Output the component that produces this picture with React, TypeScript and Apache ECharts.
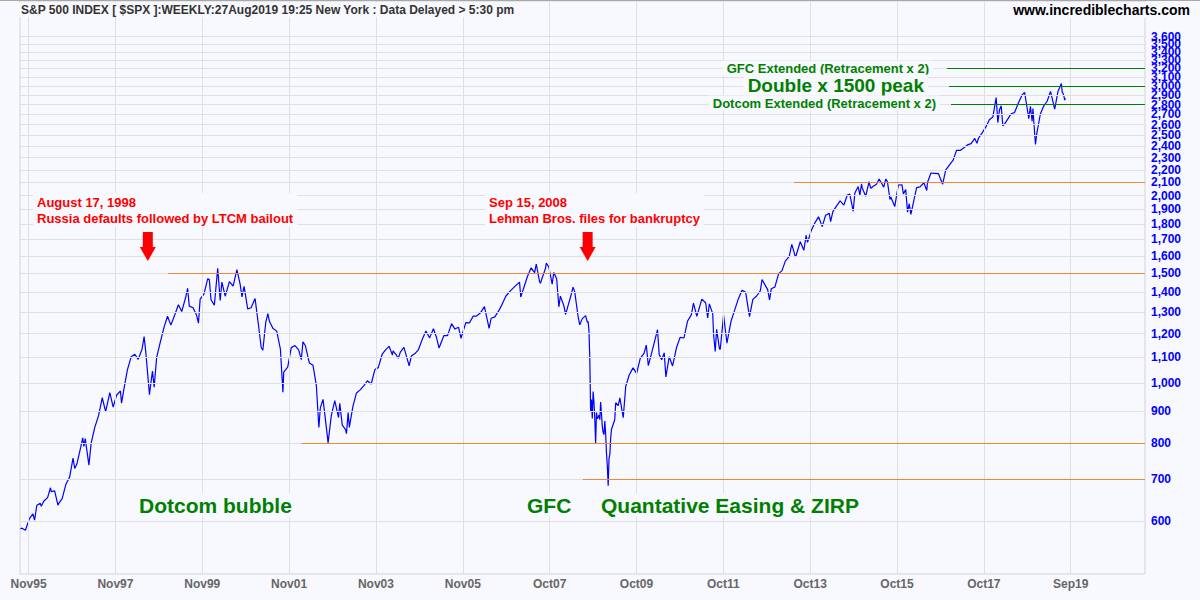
import React, { useEffect, useRef } from "react";
import * as echarts from "echarts";

type Pt = [string, number];

const era1995to1999: Pt[] = [
  ["1995-09-15", 583], ["1995-09-29", 584.4], ["1995-10-27", 579.7], ["1995-11-30", 605.4], ["1995-12-29", 615.9],
  ["1996-01-12", 601.8], ["1996-01-31", 636.0], ["1996-02-29", 640.4], ["1996-03-08", 633.5], ["1996-03-29", 645.5],
  ["1996-04-30", 654.2], ["1996-05-24", 678.5], ["1996-05-31", 669.1], ["1996-06-28", 670.6], ["1996-07-26", 635.9],
  ["1996-07-31", 640.0], ["1996-08-30", 652.0], ["1996-09-30", 687.3], ["1996-10-31", 705.3], ["1996-11-29", 757.0],
  ["1996-12-13", 728.6], ["1996-12-31", 740.7],
  ["1997-01-31", 786.2], ["1997-02-18", 816.3], ["1997-02-28", 790.8], ["1997-03-11", 813.7], ["1997-04-11", 737.7],
  ["1997-04-30", 801.3], ["1997-05-30", 848.3], ["1997-06-30", 885.1], ["1997-08-01", 947.1], ["1997-08-08", 933.5],
  ["1997-08-29", 899.5], ["1997-10-03", 965.0], ["1997-10-31", 914.6], ["1997-11-28", 955.4], ["1997-12-31", 970.4],
  ["1998-01-09", 927.7], ["1998-01-30", 980.3], ["1998-02-27", 1049.3], ["1998-03-31", 1101.8], ["1998-04-30", 1111.8],
  ["1998-05-29", 1090.8], ["1998-06-30", 1133.8], ["1998-07-17", 1186.8], ["1998-07-31", 1120.7], ["1998-08-31", 957.3],
  ["1998-09-04", 973.9], ["1998-09-25", 1044.8], ["1998-10-09", 984.4], ["1998-10-30", 1098.7], ["1998-11-30", 1163.6],
  ["1998-12-31", 1229.2],
  ["1999-01-29", 1279.6], ["1999-02-26", 1238.3], ["1999-03-31", 1286.4], ["1999-04-30", 1335.2], ["1999-05-28", 1301.8],
  ["1999-06-30", 1372.7], ["1999-07-16", 1418.8], ["1999-07-30", 1328.7], ["1999-08-31", 1320.4], ["1999-09-30", 1282.7],
  ["1999-10-15", 1247.4], ["1999-10-29", 1362.9], ["1999-11-30", 1388.9], ["1999-12-31", 1469.3],
];

const era2000to2003: Pt[] = [
  ["2000-01-14", 1465.2], ["2000-01-28", 1360.2], ["2000-02-25", 1333.4], ["2000-03-24", 1527.5], ["2000-04-14", 1356.6],
  ["2000-04-28", 1452.4], ["2000-05-26", 1378.0], ["2000-06-30", 1454.6], ["2000-07-31", 1430.8], ["2000-09-01", 1520.8],
  ["2000-09-29", 1436.5], ["2000-10-13", 1374.2], ["2000-10-31", 1429.4], ["2000-11-30", 1315.0], ["2000-12-29", 1320.3],
  ["2001-01-31", 1366.0], ["2001-02-28", 1239.9], ["2001-03-23", 1139.8], ["2001-04-06", 1128.4], ["2001-04-30", 1249.5],
  ["2001-05-18", 1292.0], ["2001-05-31", 1255.8], ["2001-06-29", 1224.4], ["2001-07-31", 1211.2], ["2001-08-31", 1133.6],
  ["2001-09-21", 965.8], ["2001-09-28", 1040.9], ["2001-10-31", 1059.8], ["2001-11-30", 1139.5], ["2001-12-31", 1148.1],
  ["2002-01-31", 1130.2], ["2002-02-22", 1089.8], ["2002-03-08", 1164.3], ["2002-03-28", 1147.4], ["2002-04-30", 1076.9],
  ["2002-05-31", 1067.1], ["2002-06-28", 989.8], ["2002-07-19", 847.8], ["2002-07-31", 911.6], ["2002-08-23", 940.9],
  ["2002-09-30", 815.3], ["2002-10-04", 800.6], ["2002-10-31", 885.8], ["2002-11-29", 936.3], ["2002-12-31", 879.8],
  ["2003-01-10", 927.6], ["2003-01-31", 855.7], ["2003-02-28", 841.2], ["2003-03-07", 828.9], ["2003-03-21", 895.8],
  ["2003-03-31", 848.2], ["2003-04-30", 916.9], ["2003-05-30", 963.6], ["2003-06-30", 974.5], ["2003-07-31", 990.3],
  ["2003-08-29", 1008.0], ["2003-09-30", 996.0], ["2003-10-31", 1050.7], ["2003-11-28", 1058.2], ["2003-12-31", 1111.9],
];

const era2004to2007: Pt[] = [
  ["2004-01-30", 1131.1], ["2004-02-27", 1144.9], ["2004-03-26", 1108.1], ["2004-03-31", 1126.2], ["2004-04-30", 1107.3],
  ["2004-05-14", 1095.7], ["2004-05-31", 1120.7], ["2004-06-30", 1140.8], ["2004-08-13", 1064.8], ["2004-08-31", 1104.2],
  ["2004-09-30", 1114.6], ["2004-10-29", 1130.2], ["2004-11-30", 1173.8], ["2004-12-31", 1211.9],
  ["2005-01-31", 1181.3], ["2005-03-04", 1222.1], ["2005-03-31", 1180.6], ["2005-04-20", 1137.5], ["2005-05-31", 1191.5],
  ["2005-06-30", 1191.3], ["2005-08-03", 1245.0], ["2005-08-31", 1220.3], ["2005-09-30", 1228.8], ["2005-10-21", 1179.6],
  ["2005-11-30", 1249.5], ["2005-12-30", 1248.3],
  ["2006-01-31", 1280.1], ["2006-02-28", 1280.7], ["2006-03-31", 1294.8], ["2006-05-05", 1325.8], ["2006-06-13", 1223.7],
  ["2006-06-30", 1270.2], ["2006-07-31", 1276.7], ["2006-08-31", 1303.8], ["2006-09-29", 1335.9], ["2006-10-31", 1377.9],
  ["2006-11-30", 1400.6], ["2006-12-29", 1418.3],
  ["2007-01-31", 1438.2], ["2007-02-23", 1451.2], ["2007-03-05", 1374.1], ["2007-03-30", 1420.9], ["2007-04-30", 1482.4],
  ["2007-05-31", 1530.6], ["2007-06-29", 1503.4], ["2007-07-13", 1552.5], ["2007-08-10", 1453.6], ["2007-08-17", 1445.9],
  ["2007-08-31", 1474.0], ["2007-09-28", 1526.8], ["2007-10-05", 1557.6], ["2007-10-26", 1535.3], ["2007-11-23", 1440.7],
  ["2007-12-07", 1504.7], ["2007-12-31", 1468.4],
];

const era2008to2009: Pt[] = [
  ["2008-01-18", 1325.2], ["2008-01-31", 1378.6], ["2008-02-29", 1330.6], ["2008-03-14", 1288.1], ["2008-03-31", 1322.7],
  ["2008-04-30", 1385.6], ["2008-05-16", 1425.4], ["2008-05-30", 1400.4], ["2008-06-27", 1278.4], ["2008-07-11", 1239.5],
  ["2008-07-31", 1267.4], ["2008-08-29", 1282.8], ["2008-09-12", 1251.7], ["2008-09-19", 1255.1], ["2008-09-26", 1213.3],
  ["2008-10-03", 1099.2], ["2008-10-10", 899.2], ["2008-10-17", 940.6], ["2008-10-24", 876.8], ["2008-10-31", 968.8],
  ["2008-11-07", 931.0], ["2008-11-14", 873.3], ["2008-11-21", 800.0], ["2008-11-28", 896.2], ["2008-12-05", 876.1],
  ["2008-12-12", 879.7], ["2008-12-19", 887.9], ["2008-12-26", 872.8],
  ["2009-01-02", 931.8], ["2009-01-09", 890.4], ["2009-01-16", 850.1], ["2009-01-23", 832.0], ["2009-01-30", 825.9],
  ["2009-02-06", 868.6], ["2009-02-13", 826.8], ["2009-02-20", 770.1], ["2009-02-27", 735.1], ["2009-03-06", 683.4],
  ["2009-03-13", 756.6], ["2009-03-20", 768.5], ["2009-03-27", 815.9], ["2009-04-03", 842.5], ["2009-04-30", 872.8],
  ["2009-05-08", 929.2], ["2009-05-29", 919.1], ["2009-06-12", 946.2], ["2009-07-10", 879.1], ["2009-07-31", 987.5],
  ["2009-08-28", 1028.9], ["2009-09-30", 1057.1], ["2009-10-30", 1036.2], ["2009-11-30", 1095.6], ["2009-12-31", 1115.1],
];

const era2010to2014: Pt[] = [
  ["2010-01-19", 1150.2], ["2010-02-05", 1066.2], ["2010-02-26", 1104.5], ["2010-03-31", 1169.4], ["2010-04-23", 1217.3],
  ["2010-05-07", 1110.9], ["2010-05-28", 1089.4], ["2010-06-18", 1117.5], ["2010-07-02", 1022.6], ["2010-07-30", 1101.6],
  ["2010-08-27", 1064.6], ["2010-09-30", 1141.2], ["2010-10-29", 1183.3], ["2010-11-30", 1180.6], ["2010-12-31", 1257.6],
  ["2011-01-31", 1286.1], ["2011-02-18", 1343.0], ["2011-03-18", 1279.2], ["2011-04-29", 1363.6], ["2011-05-31", 1345.2],
  ["2011-06-17", 1271.5], ["2011-07-01", 1339.7], ["2011-07-29", 1292.3], ["2011-08-05", 1199.4], ["2011-08-19", 1123.5],
  ["2011-08-31", 1218.9], ["2011-09-23", 1136.4], ["2011-09-30", 1131.4], ["2011-10-28", 1285.1], ["2011-11-25", 1158.7],
  ["2011-12-30", 1257.6],
  ["2012-01-31", 1312.4], ["2012-02-29", 1365.7], ["2012-03-30", 1408.5], ["2012-04-30", 1397.9], ["2012-06-01", 1278.0],
  ["2012-06-29", 1362.2], ["2012-07-31", 1379.3], ["2012-08-31", 1406.6], ["2012-09-14", 1465.8], ["2012-10-31", 1412.2],
  ["2012-11-16", 1359.9], ["2012-11-30", 1416.2], ["2012-12-31", 1426.2],
  ["2013-01-31", 1498.1], ["2013-02-28", 1514.7], ["2013-03-28", 1569.2], ["2013-04-30", 1597.6], ["2013-05-21", 1669.2],
  ["2013-06-21", 1592.4], ["2013-06-28", 1606.3], ["2013-07-31", 1685.7], ["2013-08-30", 1633.0], ["2013-09-18", 1725.5],
  ["2013-09-30", 1681.6], ["2013-10-31", 1756.5], ["2013-11-29", 1805.8], ["2013-12-31", 1848.4],
  ["2014-01-31", 1782.6], ["2014-02-28", 1859.5], ["2014-03-31", 1872.3], ["2014-04-11", 1815.7], ["2014-04-30", 1884.0],
  ["2014-05-30", 1923.6], ["2014-06-30", 1960.2], ["2014-07-31", 1930.7], ["2014-08-29", 2003.4], ["2014-09-19", 2010.4],
  ["2014-10-17", 1886.8], ["2014-10-31", 2018.1], ["2014-11-28", 2067.6], ["2014-12-12", 2002.3], ["2014-12-26", 2088.8],
  ["2014-12-31", 2058.9],
];

const era2015to2019: Pt[] = [
  ["2015-01-30", 1995.0], ["2015-02-27", 2104.5], ["2015-03-13", 2053.4], ["2015-03-31", 2067.9], ["2015-04-30", 2085.5],
  ["2015-05-22", 2126.1], ["2015-06-30", 2063.1], ["2015-07-17", 2126.6], ["2015-07-31", 2103.8], ["2015-08-21", 1970.9],
  ["2015-08-28", 1988.9], ["2015-09-25", 1931.3], ["2015-09-30", 1920.0], ["2015-10-30", 2079.4], ["2015-11-30", 2080.4],
  ["2015-12-11", 2012.4], ["2015-12-31", 2043.9],
  ["2016-01-15", 1880.3], ["2016-01-29", 1940.2], ["2016-02-12", 1864.8], ["2016-02-29", 1932.2], ["2016-03-31", 2059.7],
  ["2016-04-29", 2065.3], ["2016-05-31", 2097.0], ["2016-06-24", 2037.4], ["2016-06-30", 2098.9], ["2016-07-29", 2173.6],
  ["2016-08-31", 2171.0], ["2016-09-30", 2168.3], ["2016-11-04", 2085.2], ["2016-11-30", 2198.8], ["2016-12-30", 2238.8],
  ["2017-01-31", 2278.9], ["2017-02-28", 2363.6], ["2017-03-31", 2362.7], ["2017-04-28", 2384.2], ["2017-05-31", 2411.8],
  ["2017-06-30", 2423.4], ["2017-07-31", 2470.3], ["2017-08-18", 2425.6], ["2017-08-31", 2471.7], ["2017-09-29", 2519.4],
  ["2017-10-31", 2575.3], ["2017-11-30", 2647.6], ["2017-12-29", 2673.6],
  ["2018-01-26", 2872.9], ["2018-02-09", 2619.6], ["2018-02-23", 2747.3], ["2018-03-09", 2786.6], ["2018-03-23", 2588.3],
  ["2018-04-06", 2604.5], ["2018-04-30", 2648.1], ["2018-05-31", 2705.3], ["2018-06-29", 2718.4], ["2018-07-31", 2816.3],
  ["2018-08-31", 2901.5], ["2018-09-21", 2929.7], ["2018-10-12", 2767.1], ["2018-10-26", 2658.7], ["2018-11-09", 2781.0],
  ["2018-11-23", 2632.6], ["2018-11-30", 2760.2], ["2018-12-07", 2633.1], ["2018-12-21", 2416.6], ["2018-12-31", 2506.9],
  ["2019-01-31", 2704.1], ["2019-02-28", 2784.5], ["2019-03-29", 2834.4], ["2019-04-26", 2939.9], ["2019-05-31", 2752.1],
  ["2019-06-28", 2941.8], ["2019-07-26", 3025.9], ["2019-08-02", 2932.1], ["2019-08-09", 2918.7], ["2019-08-16", 2888.7],
  ["2019-08-23", 2847.1], ["2019-08-27", 2869.2],
];

const xTickDates = [
  "1995-11-23", "1997-11-19", "1999-11-16", "2001-11-12", "2003-11-09", "2005-11-05", "2007-11-02",
  "2009-10-29", "2011-10-26", "2013-10-22", "2015-10-19", "2017-10-15", "2019-10-12",
];
const xTickLabels = [
  "Nov95", "Nov97", "Nov99", "Nov01", "Nov03", "Nov05", "Oct07",
  "Oct09", "Oct11", "Oct13", "Oct15", "Oct17", "Sep19",
];
const yTickValues = [
  600, 700, 800, 900, 1000, 1100, 1200, 1300, 1400, 1500, 1600, 1700, 1800, 1900, 2000,
  2100, 2200, 2300, 2400, 2500, 2600, 2700, 2800, 2900, 3000, 3100, 3200, 3300, 3400, 3500, 3600,
];

const xMinDate = "1995-09-12";
const xMaxDate = "2021-06-25";
const yMinValue = 493.2;
const yMaxValue = 4107;

// Support / resistance levels (orange) and targets (green)
const orangeLevels = [1500, 800, 700, 2100];
const orangeStartDates = ["1999-02-02", "2002-02-22", "2008-08-06", "2013-06-09"];
const greenLevels = [3200, 3000, 2800];
const greenStartDates = ["2016-12-11", "2016-12-27", "2017-01-13"];

// Event arrows
const eventDates = ["1998-08-17", "2008-09-15"];
const eventArrowLevel = 1656;

const FONT = '"Liberation Sans", Arial, Helvetica, sans-serif';
const BG = "#F8F8FF";

const t = (s: string) => {
  const [y, m, d] = s.split("-").map(Number);
  return new Date(y, m - 1, d).getTime();
};

const allData = [
  ...era1995to1999, ...era2000to2003, ...era2004to2007,
  ...era2008to2009, ...era2010to2014, ...era2015to2019,
].map(([d, v]) => [t(d), v]);

const fmt = (v: number) => v.toLocaleString("en-US");

export default function App() {
  const ref = useRef<HTMLDivElement>(null);
  useEffect(() => {
    if (!ref.current) return;
    const chart = echarts.init(ref.current, undefined, { renderer: "svg" });
    const xMax = t(xMaxDate);

    const gridLines: any[] = [
      ...yTickValues.map((v) => ({
        yAxis: v,
        label: {
          show: true, position: "end", formatter: fmt(v), distance: 6,
          color: "#0000FF", fontWeight: "bold", fontSize: 12, fontFamily: FONT,
        },
      })),
      ...xTickDates.map((d, i) => ({
        xAxis: t(d),
        label: {
          show: true, position: "start", formatter: xTickLabels[i], distance: 4,
          color: "#666666", fontWeight: "bold", fontSize: 12, fontFamily: FONT,
        },
      })),
    ];

    const levelLines: any[] = [
      ...orangeLevels.map((v, i) => [
        { coord: [t(orangeStartDates[i]), v], lineStyle: { color: "#EE8833", width: 1, type: "solid" } },
        { coord: [xMax, v] },
      ]),
      ...greenLevels.map((v, i) => [
        { coord: [t(greenStartDates[i]), v], lineStyle: { color: "#008000", width: 1, type: "solid" } },
        { coord: [xMax, v] },
      ]),
    ];

    const textBox = (x: number, y: number, text: string, font: string, fill: string, align: string, lineHeight?: number) => ({
      type: "text",
      x, y, z: 50,
      style: {
        text, font, fill, align, verticalAlign: "middle",
        lineHeight, backgroundColor: BG, padding: [1, 4, 1, 4],
      },
    });

    chart.setOption({
      animation: false,
      backgroundColor: BG,
      grid: {
        left: 20, right: 55, top: 1, bottom: 26,
        show: true, borderColor: "#D4D4D4", borderWidth: 1,
      },
      xAxis: {
        type: "time", min: t(xMinDate), max: xMax,
        axisLine: { show: false }, axisTick: { show: false },
        axisLabel: { show: false }, splitLine: { show: false },
      },
      yAxis: {
        type: "log", logBase: 10, min: yMinValue, max: yMaxValue, position: "right",
        axisLine: { show: false }, axisTick: { show: false },
        axisLabel: { show: false }, splitLine: { show: false }, minorSplitLine: { show: false },
      },
      series: [
        {
          type: "line", data: [], z: 1, silent: true,
          markLine: {
            silent: true, symbol: "none", animation: false,
            lineStyle: { color: "#E0E0E0", width: 1, type: "solid" },
            data: gridLines,
          },
        },
        {
          type: "line", data: [], z: 2, silent: true,
          markLine: {
            silent: true, symbol: "none", animation: false,
            label: { show: false },
            data: levelLines,
          },
        },
        {
          type: "line", data: allData, z: 3, showSymbol: false, silent: true,
          lineStyle: { color: "#0000FF", width: 1.2 },
          itemStyle: { color: "#0000FF" },
          markPoint: {
            silent: true, animation: false,
            symbol: "path://M3,0 L13,0 L13,15 L16,15 L8,29 L0,15 L3,15 Z",
            symbolSize: [16, 29],
            itemStyle: { color: "#FF0000" },
            label: { show: false },
            data: eventDates.map((d) => ({ coord: [t(d), eventArrowLevel] })),
          },
        },
      ],
      graphic: [
        { type: "line", z: 60, shape: { x1: 0, y1: 0.5, x2: 1200, y2: 0.5 }, style: { stroke: "#A8A8A8", lineWidth: 1 } },
        textBox(17, 10, "S&P 500 INDEX [ $SPX ]:WEEKLY:27Aug2019 19:25 New York : Data Delayed > 5:30 pm",
          `bold 12px ${FONT}`, "#333333", "left"),
        textBox(1194, 10, "www.incrediblecharts.com", `bold 14px ${FONT}`, "#000000", "right"),
        textBox(33, 210, "August 17, 1998\nRussia defaults followed by LTCM bailout", `bold 13px ${FONT}`, "#FF0000", "left", 16),
        textBox(485, 210, "Sep 15, 2008\nLehman Bros. files for bankruptcy", `bold 13px ${FONT}`, "#FF0000", "left", 16),
        textBox(135, 505, "Dotcom bubble", `bold 21px ${FONT}`, "#008000", "left"),
        textBox(523, 505, "GFC", `bold 21px ${FONT}`, "#008000", "left"),
        textBox(597, 505, "Quantative Easing & ZIRP", `bold 21px ${FONT}`, "#008000", "left"),
        textBox(933, 68, "GFC Extended (Retracement x 2)", `bold 13px ${FONT}`, "#008000", "right"),
        textBox(928, 85, "Double x 1500 peak", `bold 19px ${FONT}`, "#008000", "right"),
        textBox(940, 103, "Dotcom Extended (Retracement x 2)", `bold 13px ${FONT}`, "#008000", "right"),
      ],
    });
    return () => chart.dispose();
  }, []);
  return <div ref={ref} style={{ position: "absolute", left: 0, top: 0, width: 1200, height: 600 }} />;
}
